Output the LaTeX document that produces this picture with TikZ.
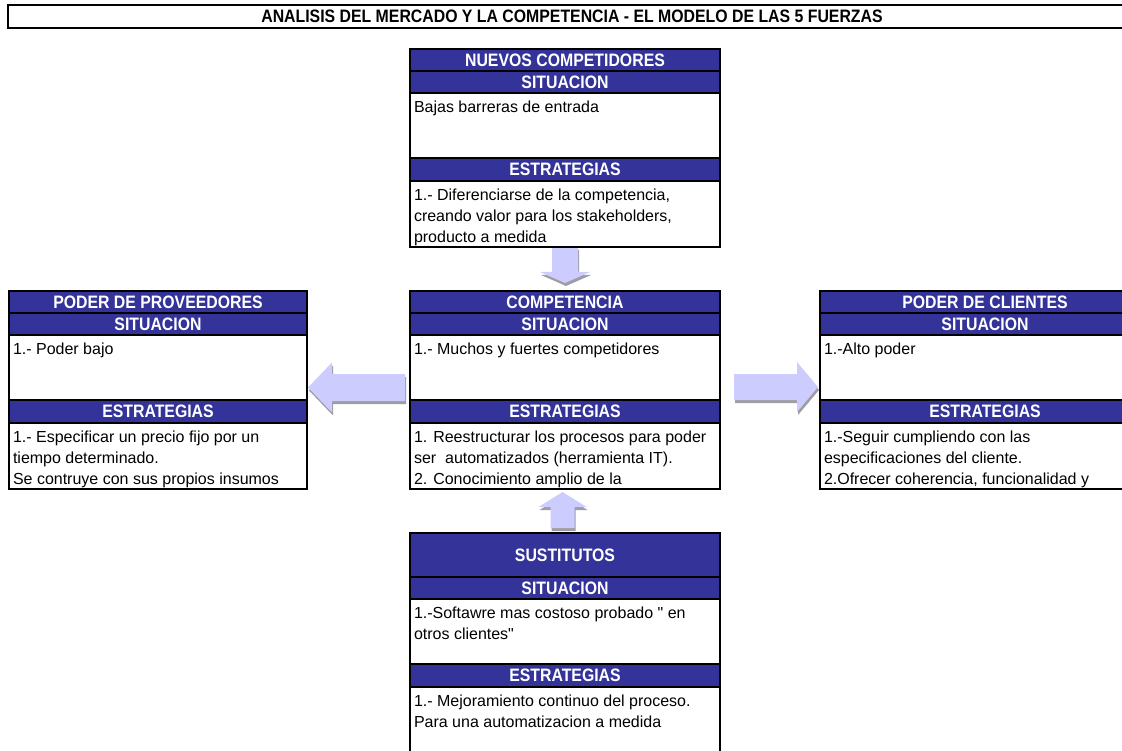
\documentclass[tikz,border=0pt]{standalone}
\usepackage{fontspec}
\setmainfont{Liberation Sans}[Ligatures=TeXOff]
\newfontfamily\headfont{Liberation Sans}[FakeStretch=0.88, Ligatures=TeXOff]
\usetikzlibrary{calc,backgrounds}

\definecolor{bandblue}{RGB}{51,51,153}
\definecolor{arrowfill}{RGB}{204,204,255}
\definecolor{arrowshade}{RGB}{158,158,162}

\tikzset{
  frame/.style={draw=black, line width=1.8pt, inner sep=0pt, outer sep=0pt},
  band/.style={frame, fill=bandblue, text=white, anchor=north west,
    font=\headfont\fontsize{18}{20}\selectfont\bfseries},
  cell/.style={frame, fill=white, anchor=north west},
  celltext/.style={anchor=north west, inner sep=0pt, outer sep=0pt, align=left,
    font=\fontsize{16}{21}\selectfont},
  titlebox/.style={frame, fill=white, anchor=north west,
    font=\headfont\fontsize{18}{20}\selectfont\bfseries},
  arrowbody/.style={fill=arrowfill},
  arrowdrop/.style={fill=arrowshade},
}

% One force: title band, SITUACION band and cell, ESTRATEGIAS band and cell.
% #1 name, #2 x, #3 y, #4 width, #5 title band height, #6 title, #7 situation text, #8 strategy text
\newcommand\forcebox[8]{%
  \node[band, minimum width=#4, minimum height=#5] (#1-head) at (#2,#3) {#6};
  \node[band, minimum width=#4, minimum height=22] (#1-sit) at (#1-head.south west) {SITUACION};
  \node[cell, minimum width=#4, minimum height=65] (#1-sitc) at (#1-sit.south west) {};
  \node[band, minimum width=#4, minimum height=23] (#1-est) at (#1-sitc.south west) {ESTRATEGIAS};
  \node[cell, minimum width=#4, minimum height=66] (#1-estc) at (#1-est.south west) {};
  \begin{scope}
    \clip ($(#1-sitc.north west)+(1,1)$) rectangle ($(#1-sitc.south east)+(-1,-1)$);
    \node[celltext] (#1-sitt) at ($(#1-sitc.north west)+(4,4.6)$) {#7};
  \end{scope}
  \begin{scope}
    \clip ($(#1-estc.north west)+(1,1)$) rectangle ($(#1-estc.south east)+(-1,-1)$);
    \node[celltext] (#1-estt) at ($(#1-estc.north west)+(4,4.6)$) {#8};
  \end{scope}
}

% Block arrow from tail #2 to tip #3: shaft half width #4, head half width #5, head length #6
\newcommand\blockarrow[6]{%
  \coordinate (ba-h) at ($(#3)!#6!(#2)$);
  \fill[#1] ($(#2)!#4!90:(#3)$) -- ($(ba-h)!#4!-90:(#2)$) -- ($(ba-h)!#5!-90:(#2)$)
    -- (#3) -- ($(ba-h)!#5!90:(#2)$) -- ($(ba-h)!#4!90:(#2)$)
    -- ($(#2)!#4!-90:(#3)$) -- cycle;
}
\newcommand\shadedarrow[5]{%
  \begin{scope}[transform canvas={xshift=1pt, yshift=-3pt}]
    \blockarrow{arrowdrop}{#1}{#2}{#3}{#4}{#5}
  \end{scope}
  \blockarrow{arrowbody}{#1}{#2}{#3}{#4}{#5}
}

\begin{document}
\begin{tikzpicture}[x=1pt, y=-1pt]
  \useasboundingbox (0,0) rectangle (1122,751);
  \clip (0,0) rectangle (1122,751);

  \node[titlebox, minimum width=1128, minimum height=23] (title) at (8,5)
    {ANALISIS DEL MERCADO Y LA COMPETENCIA - EL MODELO DE LAS 5 FUERZAS};

  \forcebox{nc}{410}{49}{310}{22}{NUEVOS COMPETIDORES}
    {\strut Bajas barreras de entrada}
    {\strut 1.- Diferenciarse de la competencia,\\ \strut creando valor para los stakeholders,\\ \strut producto a medida}

  \forcebox{pp}{9}{291}{298}{22}{PODER DE PROVEEDORES}
    {\strut 1.- Poder bajo}
    {\strut 1.- Especificar un precio fijo por un\\ \strut tiempo determinado.\\ \strut Se contruye con sus propios insumos}

  \forcebox{comp}{410}{291}{310}{22}{COMPETENCIA}
    {\strut 1.- Muchos y fuertes competidores}
    {\strut 1. Reestructurar los procesos para poder\\ \strut ser\ \ automatizados (herramienta IT).\\ \strut 2. Conocimiento amplio de la}

  \forcebox{pc}{820}{291}{330}{22}{PODER DE CLIENTES}
    {\strut 1.-Alto poder}
    {\strut 1.-Seguir cumpliendo con las\\ \strut especificaciones del cliente.\\ \strut 2.Ofrecer coherencia, funcionalidad y}

  \forcebox{sus}{410}{533}{310}{44}{SUSTITUTOS}
    {\strut 1.-Softawre mas costoso probado " en\\ \strut otros clientes"}
    {\strut 1.- Mejoramiento continuo del proceso.\\ \strut Para una automatizacion a medida}

  % arrow ends, placed against the boxes they join
  \coordinate (nc-tail)   at (nc-estc.south);
  \coordinate (nc-tip)    at ($(comp-head.north)+(0,-8)$);
  \coordinate (pp-tail)   at ($(comp-sitc.south west)+(-5,-12.5)$);
  \coordinate (pp-tip)    at ($(pp-sitc.south east)+(1,-12.5)$);
  \coordinate (pc-tail)   at ($(comp-sitc.south east)+(14,-13)$);
  \coordinate (pc-tip)    at ($(pc-sitc.south west)+(-2,-13)$);
  \coordinate (sus-tail)  at ($(sus-head.north)+(-2.5,-5)$);
  \coordinate (sus-tip)   at ($(comp-estc.south)+(-2.5,3)$);

  \begin{scope}[on background layer]
    \shadedarrow{nc-tail}{nc-tip}{13pt}{25pt}{11pt}
    \shadedarrow{pp-tail}{pp-tip}{13.5pt}{25pt}{24pt}
    \shadedarrow{pc-tail}{pc-tip}{13pt}{25pt}{21pt}
    \shadedarrow{sus-tail}{sus-tip}{12pt}{24pt}{15pt}
  \end{scope}
\end{tikzpicture}
\end{document}
